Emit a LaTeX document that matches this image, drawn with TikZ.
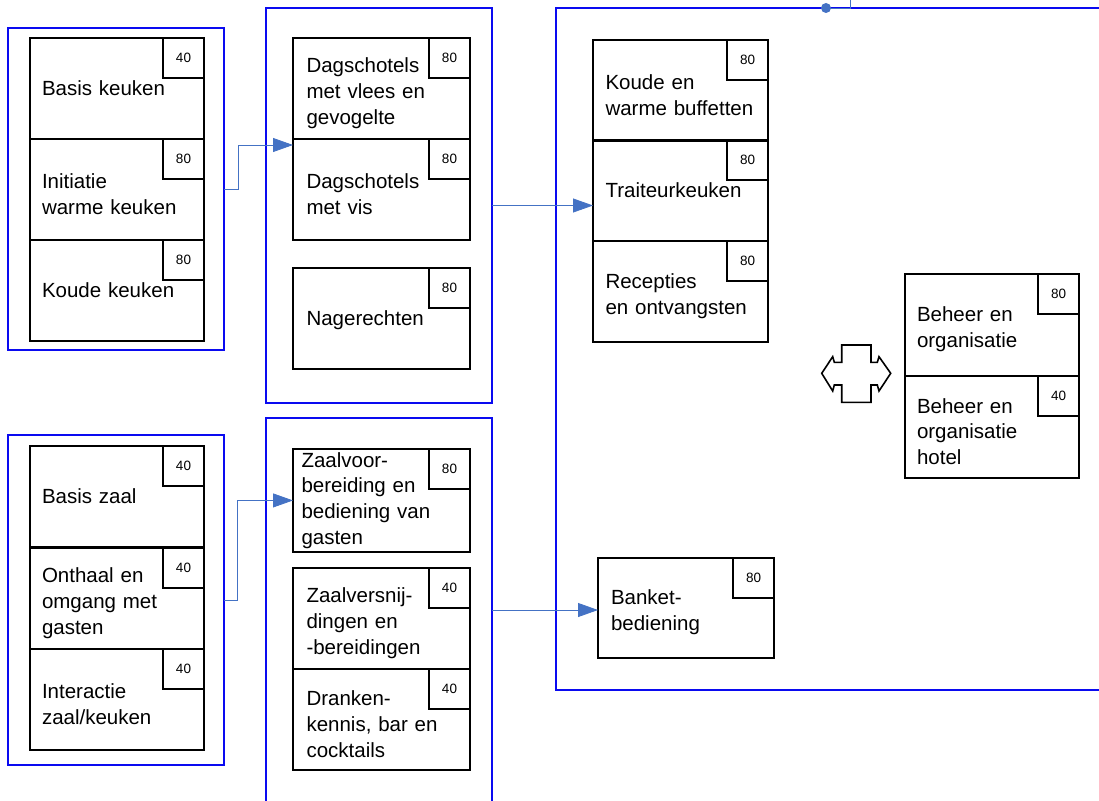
\documentclass[tikz,border=0pt]{standalone}
\usepackage{fontspec}
\setmainfont{Liberation Sans}
\usepackage{tikz}
\usetikzlibrary{arrows.meta}
\usetikzlibrary{positioning}
\definecolor{flowblue}{HTML}{4472C4}
\definecolor{groupblue}{HTML}{0A0AF0}
\tikzstyle{course}=[draw=black, line width=1.8pt, anchor=north west, outer sep=0pt,
    minimum height=101pt, minimum width=174pt, text width=150pt, inner xsep=12pt,
    align=left, font=\fontsize{20.5}{25.7}\selectfont,
    execute at end node={\vspace*{-9pt}}]
\tikzstyle{numbox}=[draw=black, line width=1.5pt, anchor=north east, outer sep=0pt,
    minimum width=41pt, minimum height=40pt, inner sep=0pt,
    font=\fontsize{13.5}{15}\selectfont]
\tikzstyle{group}=[draw=groupblue, line width=1.8pt, anchor=north west, outer sep=0pt, inner sep=0pt]
\tikzstyle{flow}=[draw=flowblue, line width=0.8pt, -{Triangle[length=20pt,width=14pt]}]
\tikzstyle{dot}=[circle, fill=flowblue, minimum size=10pt, inner sep=0pt]

\begin{document}
\begin{tikzpicture}[x=1pt,y=-1pt]
          \useasboundingbox (0,0) rectangle (1099,800);
          % blue groups
          \node[group, minimum width=216pt, minimum height=322pt] (kgrp) at (8,28){};
          \node[group, minimum width=226pt, minimum height=395pt] (mgrp) at (266,8){};
          \node[group, minimum width=560pt, minimum height=682pt] (rgrp) at (556,8){};
          \node[group, minimum width=216pt, minimum height=330pt] (zgrp) at (8,435){};
          \node[group, minimum width=226pt, minimum height=384pt] (dgrp) at (266,418){};
          % keuken
          \node[course] (bk) at (30,38){Basis keuken};
          \node[numbox] (bkn) at (bk.north east){40};
          \node[course] (iwk) at (30,139){Initiatie\\warme keuken};
          \node[numbox] (iwkn) at (iwk.north east){80};
          \node[course] (kk) at (30,240){Koude keuken};
          \node[numbox] (kkn) at (kk.north east){80};
          \node[course, minimum width=177pt] (dvv) at (293,38){Dagschotels\\met vlees en\\gevogelte};
          \node[numbox] (dvvn) at (dvv.north east){80};
          \node[course, minimum width=177pt] (dvis) at (293,139){Dagschotels\\met vis};
          \node[numbox] (dvisn) at (dvis.north east){80};
          \node[course, minimum width=177pt] (nag) at (293,268){Nagerechten};
          \node[numbox] (nagn) at (nag.north east){80};
          \node[course, minimum width=175pt] (kwb) at (593,40){Koude en\\warme buffetten};
          \node[numbox] (kwbn) at (kwb.north east){80};
          \node[course, minimum width=175pt] (trk) at (593,140){Traiteurkeuken};
          \node[numbox] (trkn) at (trk.north east){80};
          \node[course, minimum width=175pt] (rec) at (593,241){Recepties\\en ontvangsten};
          \node[numbox] (recn) at (rec.north east){80};
          \node[course, minimum width=172pt, minimum height=102pt] (bo) at (905,274){Beheer en\\organisatie};
          \node[numbox] (bon) at (bo.north east){80};
          \node[course, minimum width=172pt, minimum height=102pt] (boh) at (905,376){Beheer en\\organisatie\\hotel};
          \node[numbox] (bohn) at (boh.north east){40};
          % zaal
          \node[course] (bz) at (30,446){Basis zaal};
          \node[numbox] (bzn) at (bz.north east){40};
          \node[course] (oog) at (30,548){Onthaal en\\omgang met\\gasten};
          \node[numbox] (oogn) at (oog.north east){40};
          \node[course] (izk) at (30,649){Interactie\\zaal/keuken};
          \node[numbox] (izkn) at (izk.north east){40};
          \node[course, minimum width=177pt, minimum height=100pt, text width=160pt, inner xsep=7pt,
            execute at end node={\vspace*{9pt}}] (zvb) at (293,449){Zaalvoor-\\bereiding en\\bediening van\\gasten};
          \node[numbox] (zvbn) at (zvb.north east){80};
          \node[course, minimum width=177pt] (zvs) at (293,568){Zaalversnij-\\dingen en\\-bereidingen};
          \node[numbox] (zvsn) at (zvs.north east){40};
          \node[course, minimum width=177pt] (dkb) at (293,669){Dranken-\\kennis, bar en\\cocktails};
          \node[numbox] (dkbn) at (dkb.north east){40};
          \node[course, minimum width=176pt, minimum height=100pt] (bnk) at (598,558){Banket-\\bediening};
          \node[numbox] (bnkn) at (bnk.north east){80};
          % connectors
          \draw[flow](kgrp.east) -- ++(14,0) |- ([yshift=-6pt]dvis.north west);
          \draw[flow](mgrp.east) -- (mgrp.east -| trk.west);
          \draw[flow](zgrp.east) -- ++(13,0) |- (zvb.west);
          \draw[flow](dgrp.east) -- (dgrp.east -| bnk.west);
          \node[dot] (tdot) at (826,8){};
          \coordinate (tout) at (850,-5);
          \draw[flow, -](tdot) -| (tout);
          % double arrow
          \draw[black, line width=1.6pt, line join=miter]
            (841.7,345) -- (871,345) -- (871,362.3) -- (877.3,362.3) -- (879,356.7)
            -- (890.7,373.3) -- (879,391) -- (877.3,385) -- (871,385) -- (871,402.3)
            -- (841.7,402.3) -- (841.7,385) -- (834.3,385) -- (832.7,391) -- (821.7,373.3)
            -- (832.7,356.7) -- (834.3,362.3) -- (841.7,362.3) -- cycle;
        \end{tikzpicture}
\end{document}
